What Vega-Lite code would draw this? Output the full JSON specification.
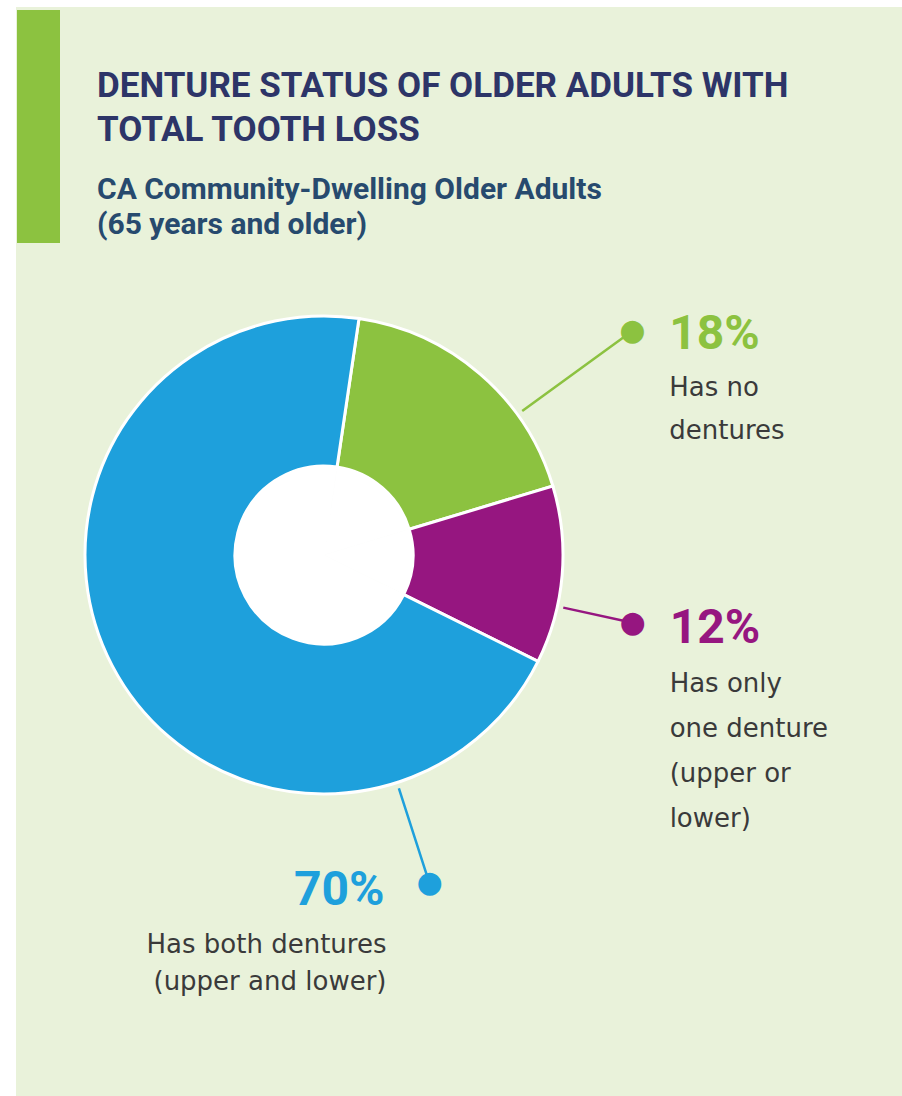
{
  "$schema": "https://vega.github.io/schema/vega-lite/v6.json",
  "width": 886,
  "height": 1089,
  "autosize": {"type": "none"},
  "padding": {"left": 16, "top": 7, "right": 0, "bottom": 0},
  "background": "#ffffff",
  "view": {"fill": "#E9F2DA", "stroke": null},
  "config": {"view": {"fill": "#E9F2DA", "stroke": null}},
  "title": {
    "text": ["DENTURE STATUS OF OLDER ADULTS WITH", "TOTAL TOOTH LOSS"],
    "subtitle": ["CA Community-Dwelling Older Adults", "(65 years and older)"],
    "anchor": "start",
    "frame": "group",
    "orient": "top",
    "offset": -233,
    "dx": 81,
    "font": "Roboto",
    "fontSize": 35,
    "fontWeight": "bold",
    "color": "#2D3568",
    "lineHeight": 44,
    "subtitleFont": "Roboto",
    "subtitleFontSize": 30,
    "subtitleFontWeight": "bold",
    "subtitleColor": "#274A6E",
    "subtitleLineHeight": 35,
    "subtitlePadding": 27
  },
  "datasets": {
    "denture": [
      {"cat": "Has no dentures", "share": 0.18, "rank": 1, "desc": ["Has no", "dentures"]},
      {"cat": "Has only one denture (upper or lower)", "share": 0.12, "rank": 2, "desc": ["Has only", "one denture", "(upper or", "lower)"]},
      {"cat": "Has both dentures (upper and lower)", "share": 0.70, "rank": 3, "desc": ["Has both dentures", "(upper and lower)"]}
    ],
    "accent": [{"part": "accent bar"}]
  },
  "data": {"name": "denture"},
  "layer": [
    {
      "mark": {"type": "arc", "x": 308, "y": 548, "radius": 239, "radius2": 89, "stroke": "#ffffff", "strokeWidth": 3},
      "encoding": {
        "theta": {"field": "share", "type": "quantitative", "stack": true, "scale": {"domain": [0, 1], "range": [0.147, 6.4302]}},
        "color": {"field": "cat", "type": "nominal", "legend": null, "scale": {"domain": ["Has no dentures", "Has only one denture (upper or lower)", "Has both dentures (upper and lower)"], "range": ["#8CC240", "#961680", "#1EA0DC"]}},
        "order": {"field": "rank"}
      }
    },
    {
      "mark": {"type": "arc", "x": 308, "y": 548, "radius": 89, "radius2": 0, "fill": "#ffffff", "stroke": "#ffffff", "strokeWidth": 1},
      "encoding": {
        "theta": {"field": "share", "type": "quantitative", "stack": true},
        "detail": {"field": "cat"},
        "order": {"field": "rank"}
      }
    },
    {
      "transform": [
        {"stack": "share", "groupby": [], "sort": [{"field": "rank"}], "as": ["s0", "s1"]},
        {"filter": "datum.cat === 'Has no dentures'"}
      ],
      "mark": {"type": "arc", "x": 308, "y": 548, "radius": 381, "radius2": 245, "thetaOffset": 0.7955, "theta2Offset": 0.7955, "fill": null, "stroke": "#8CC240", "strokeWidth": 2.5},
      "encoding": {
        "theta": {"field": "s0", "type": "quantitative", "stack": null},
        "theta2": {"field": "s0"}
      }
    },
    {
      "transform": [
        {"stack": "share", "groupby": [], "sort": [{"field": "rank"}], "as": ["s0", "s1"]},
        {"filter": "datum.cat === 'Has only one denture (upper or lower)'"}
      ],
      "mark": {"type": "arc", "x": 308, "y": 548, "radius": 316, "radius2": 245, "thetaOffset": 0.5092, "theta2Offset": 0.5092, "fill": null, "stroke": "#961680", "strokeWidth": 2.5},
      "encoding": {
        "theta": {"field": "s0", "type": "quantitative", "stack": null},
        "theta2": {"field": "s0"}
      }
    },
    {
      "transform": [
        {"stack": "share", "groupby": [], "sort": [{"field": "rank"}], "as": ["s0", "s1"]},
        {"filter": "datum.cat === 'Has both dentures (upper and lower)'"}
      ],
      "mark": {"type": "arc", "x": 308, "y": 548, "radius": 345, "radius2": 245, "thetaOffset": 0.799, "theta2Offset": 0.799, "fill": null, "stroke": "#1EA0DC", "strokeWidth": 2.5},
      "encoding": {
        "theta": {"field": "s0", "type": "quantitative", "stack": null},
        "theta2": {"field": "s0"}
      }
    },
    {
      "mark": {"type": "text", "x": 308, "y": 548, "radius": 381, "thetaOffset": 0.23, "font": "DejaVu Sans", "fontSize": 30, "align": "center", "baseline": "middle", "color": "#8CC240"},
      "encoding": {
        "theta": {"field": "share", "type": "quantitative", "stack": true},
        "detail": {"field": "cat"},
        "order": {"field": "rank"},
        "text": {"condition": {"test": "datum.cat === 'Has no dentures'", "value": "●"}, "value": ""}
      }
    },
    {
      "mark": {"type": "text", "x": 308, "y": 548, "radius": 316, "thetaOffset": 0.1322, "font": "DejaVu Sans", "fontSize": 30, "align": "center", "baseline": "middle", "color": "#961680"},
      "encoding": {
        "theta": {"field": "share", "type": "quantitative", "stack": true},
        "detail": {"field": "cat"},
        "order": {"field": "rank"},
        "text": {"condition": {"test": "datum.cat === 'Has only one denture (upper or lower)'", "value": "●"}, "value": ""}
      }
    },
    {
      "mark": {"type": "text", "x": 308, "y": 548, "radius": 345, "thetaOffset": -1.4002, "font": "DejaVu Sans", "fontSize": 30, "align": "center", "baseline": "middle", "color": "#1EA0DC"},
      "encoding": {
        "theta": {"field": "share", "type": "quantitative", "stack": true},
        "detail": {"field": "cat"},
        "order": {"field": "rank"},
        "text": {"condition": {"test": "datum.cat === 'Has both dentures (upper and lower)'", "value": "●"}, "value": ""}
      }
    },
    {
      "mark": {"type": "text", "x": 308, "y": 548, "radius": 381, "thetaOffset": 0.23, "dx": 37, "dy": 18, "align": "left", "baseline": "alphabetic", "font": "Roboto", "fontWeight": "bold", "fontSize": 48, "color": "#8CC240"},
      "encoding": {
        "theta": {"field": "share", "type": "quantitative", "stack": true},
        "detail": {"field": "cat"},
        "order": {"field": "rank"},
        "text": {"condition": {"test": "datum.cat === 'Has no dentures'", "field": "share", "type": "quantitative", "format": ".0%"}, "value": ""}
      }
    },
    {
      "mark": {"type": "text", "x": 308, "y": 548, "radius": 316, "thetaOffset": 0.1322, "dx": 37, "dy": 20, "align": "left", "baseline": "alphabetic", "font": "Roboto", "fontWeight": "bold", "fontSize": 48, "color": "#961680"},
      "encoding": {
        "theta": {"field": "share", "type": "quantitative", "stack": true},
        "detail": {"field": "cat"},
        "order": {"field": "rank"},
        "text": {"condition": {"test": "datum.cat === 'Has only one denture (upper or lower)'", "field": "share", "type": "quantitative", "format": ".0%"}, "value": ""}
      }
    },
    {
      "mark": {"type": "text", "x": 308, "y": 548, "radius": 345, "thetaOffset": -1.4002, "dx": -45, "dy": 22, "align": "right", "baseline": "alphabetic", "font": "Roboto", "fontWeight": "bold", "fontSize": 48, "color": "#1EA0DC"},
      "encoding": {
        "theta": {"field": "share", "type": "quantitative", "stack": true},
        "detail": {"field": "cat"},
        "order": {"field": "rank"},
        "text": {"condition": {"test": "datum.cat === 'Has both dentures (upper and lower)'", "field": "share", "type": "quantitative", "format": ".0%"}, "value": ""}
      }
    },
    {
      "mark": {"type": "text", "x": 308, "y": 548, "radius": 381, "thetaOffset": 0.23, "dx": 37, "dy": 65, "align": "left", "baseline": "alphabetic", "font": "DejaVu Sans", "fontSize": 26, "lineHeight": 43, "color": "#3A3A3A"},
      "encoding": {
        "theta": {"field": "share", "type": "quantitative", "stack": true},
        "detail": {"field": "cat"},
        "order": {"field": "rank"},
        "text": {"condition": {"test": "datum.cat === 'Has no dentures'", "field": "desc"}, "value": ""}
      }
    },
    {
      "mark": {"type": "text", "x": 308, "y": 548, "radius": 316, "thetaOffset": 0.1322, "dx": 37, "dy": 69, "align": "left", "baseline": "alphabetic", "font": "DejaVu Sans", "fontSize": 26, "lineHeight": 45, "color": "#3A3A3A"},
      "encoding": {
        "theta": {"field": "share", "type": "quantitative", "stack": true},
        "detail": {"field": "cat"},
        "order": {"field": "rank"},
        "text": {"condition": {"test": "datum.cat === 'Has only one denture (upper or lower)'", "field": "desc"}, "value": ""}
      }
    },
    {
      "mark": {"type": "text", "x": 308, "y": 548, "radius": 345, "thetaOffset": -1.4002, "dx": -43, "dy": 70, "align": "right", "baseline": "alphabetic", "font": "DejaVu Sans", "fontSize": 26, "lineHeight": 37, "color": "#3A3A3A"},
      "encoding": {
        "theta": {"field": "share", "type": "quantitative", "stack": true},
        "detail": {"field": "cat"},
        "order": {"field": "rank"},
        "text": {"condition": {"test": "datum.cat === 'Has both dentures (upper and lower)'", "field": "desc"}, "value": ""}
      }
    },
    {
      "data": {"name": "accent"},
      "mark": {"type": "rect", "x": 1, "x2": 44, "y": 3, "y2": 236, "color": "#8CC240"},
      "encoding": {}
    }
  ]
}
